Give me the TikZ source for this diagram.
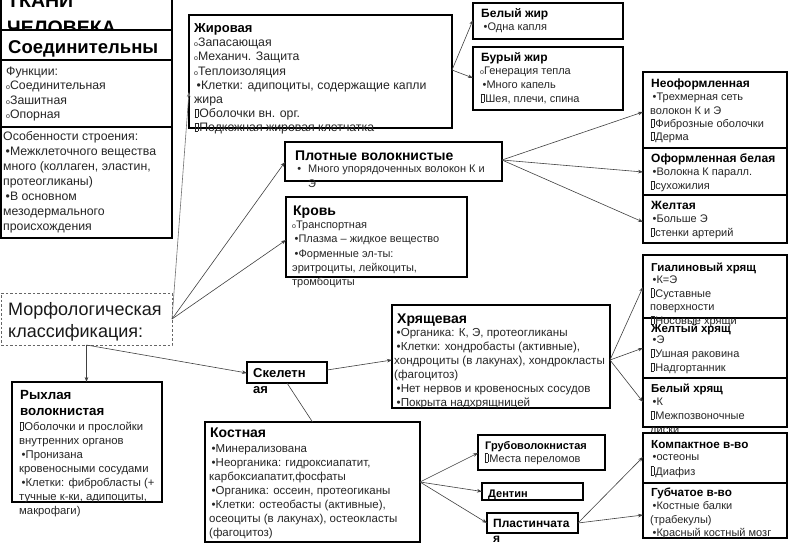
\documentclass[tikz,border=0pt]{standalone}
\usepackage{fontspec}
\setmainfont{Liberation Sans}
\usetikzlibrary{arrows.meta}
\newcommand\cir{{\fontsize{7}{7}\selectfont o}}
\newcommand\bul{\hspace*{2.5pt}•}
\newcommand\nog{\kern0.3pt\vbox{\hrule height .45pt\hbox{\vrule width .45pt height 8pt\kern3pt\vrule width .45pt}\hrule height .45pt}\kern1pt}
\tikzset{
  box/.style={draw=black, line width=1.4pt, fill=white, inner sep=0pt, outer sep=0pt, anchor=north west},
  ttl/.style={anchor=base west, inner sep=0pt, font=\bfseries\fontsize{#1}{#1}\selectfont},
  bd/.style 2 args={anchor=north west, inner sep=0pt, align=left, text=black!85, font=\fontsize{#1}{#2}\selectfont},
  bdb/.style 2 args={anchor=north west, inner sep=0pt, align=left, font=\bfseries\fontsize{#1}{#2}\selectfont},
  con/.style={draw=black!75, line width=0.6pt, -{Stealth[length=5pt,width=3.6pt]}},
}
\begin{document}
\begin{tikzpicture}[x=1pt,y=-1pt]
\useasboundingbox (0,0) rectangle (800,554);
\clip (0,0) rectangle (800,554);
\fill[white] (0,0) rectangle (800,554);
% title
\node[box, minimum width=171, minimum height=35] (ttlbox) at (1,-5) {};
\node[ttl=19.5] (tkani) at (7,8) {ТКАНИ};
\node[ttl=19.5] (chel) at (7,34) {ЧЕЛОВЕКА};
% boxes
\node[box, minimum width=171, minimum height=30] (conn) at (1,30) {};
\node[box, minimum width=171, minimum height=67] (func) at (1,60) {};
\node[box, minimum width=171, minimum height=111] (feat) at (1,127) {};
\node[box, draw=black!60, line width=0.8pt, dash pattern=on 2.5pt off 2pt, minimum width=171, minimum height=52] (morph) at (1,293) {};
\node[box, minimum width=263, minimum height=113] (fat) at (189,15) {};
\node[box, minimum width=150, minimum height=36] (white) at (473,3) {};
\node[box, minimum width=150, minimum height=63] (brown) at (473,47) {};
\node[box, minimum width=217, minimum height=39] (dense) at (285,142) {};
\node[box, minimum width=181, minimum height=80] (blood) at (286,197) {};
\node[box, minimum width=144, minimum height=76] (irreg) at (643,72) {};
\node[box, minimum width=144, minimum height=47] (reg) at (643,148) {};
\node[box, minimum width=144, minimum height=48] (yel) at (643,195) {};
\node[box, minimum width=144, minimum height=63] (hyal) at (643,255) {};
\node[box, minimum width=144, minimum height=60] (elas) at (643,318) {};
\node[box, minimum width=144, minimum height=49] (fib) at (643,378) {};
\node[box, minimum width=218, minimum height=103] (cart) at (392,305) {};
\node[box, minimum width=150, minimum height=120] (loose) at (12,382) {};
\node[box, minimum width=80, minimum height=21] (skel) at (247,362) {};
\node[box, minimum width=215, minimum height=120] (bone) at (205,422) {};
\node[box, minimum width=127, minimum height=35] (coarse) at (478,435) {};
\node[box, minimum width=101, minimum height=17] (dent) at (482,483) {};
\node[box, minimum width=91, minimum height=20] (lam) at (487,513) {};
% texts
\node[ttl=18.5] (conn-t) at (8,53) {Соединительны};
\node[bd={12.3}{14.2}] (func-t) at (6,65.6) {\strut Функции:\\\cir Соединительная\\\cir Зашитная\\\cir Опорная};
\node[bd={12.3}{15}] (feat-t) at (3,130) {\strut Особенности строения:\\\bul Межклеточного вещества\\много (коллаген, эластин,\\протеогликаны)\\\bul В основном\\мезодермального\\происхождения};
\node[bd={18}{22.5}, text=black!90] (morph-t) at (8,299.25) {\strut Морфологическая\\классификация:};
\node[ttl=13] (fat-h) at (194,32.5) {Жировая};
\node[bd={12.3}{14.2}] (fat-t) at (194,36.6) {\strut\cir Запасающая\\\cir Механич. Защита\\\cir Теплоизоляция\\\bul Клетки: адипоциты, содержащие капли\\жира\\\nog Оболочки вн. орг.\\\nog Подкожная жировая клетчатка};
\node[ttl=12] (white-h) at (481,17.5) {Белый жир};
\node[bd={11}{14}] (white-t) at (481,20.7) {\strut\bul Одна капля};
\node[ttl=12] (brown-h) at (481,61.5) {Бурый жир};
\node[bd={11}{14}] (brown-t) at (480,64.7) {\strut\cir Генерация тепла\\\bul Много капель\\\nog Шея, плечи, спина};
\node[ttl=14] (dense-h) at (295,160) {Плотные волокнистые};
\node[bd={11}{15}] (dense-t) at (308,161.5) {\strut\llap{•\hspace{7pt}}Много упорядоченных волокон К и\\Э};
\node[ttl=14] (blood-h) at (293,215) {Кровь};
\node[bd={11}{14.2}] (blood-t) at (292,218.6) {\strut\cir Транспортная\\\bul Плазма – жидкое вещество\\\bul Форменные эл-ты:\\эритроциты, лейкоциты,\\тромбоциты};
\node[ttl=12] (irreg-h) at (651,87) {Неоформленная};
\node[bd={11}{13.4}] (irreg-t) at (650,91.1) {\strut\bul Трехмерная сеть\\волокон К и Э\\\nog Фиброзные оболочки\\\nog Дерма};
\node[ttl=12] (reg-h) at (651,162) {Оформленная белая};
\node[bd={11}{14}] (reg-t) at (650,165.7) {\strut\bul Волокна К паралл.\\\nog сухожилия};
\node[ttl=12] (yel-h) at (651,209) {Желтая};
\node[bd={11}{14}] (yel-t) at (650,212.7) {\strut\bul Больше Э\\\nog стенки артерий};
\node[ttl=11.5] (hyal-h) at (651,271) {Гиалиновый хрящ};
\node[bd={11}{13.6}] (hyal-t) at (650,274) {\strut\bul К=Э\\\nog Суставные\\поверхности\\\nog Носовые хрящи};
\node[ttl=11.5] (elas-h) at (651,332) {Желтый хрящ};
\node[bd={11}{14}] (elas-t) at (650,333.7) {\strut\bul Э\\\nog Ушная раковина\\\nog Надгортанник};
\node[ttl=11.5] (fib-h) at (651,392) {Белый хрящ};
\node[bd={11}{13.8}] (fib-t) at (650,395.8) {\strut\bul К\\\nog Межпозвоночные\\диски};
\node[ttl=14] (cart-h) at (397,323) {Хрящевая};
\node[bd={11.6}{14}] (cart-t) at (394,326.7) {\strut\bul Органика: К, Э, протеогликаны\\\bul Клетки: хондробасты (активные),\\хондроциты (в лакунах), хондрокласты\\(фагоцитоз)\\\bul Нет нервов и кровеносных сосудов\\\bul Покрыта надхрящницей};
\node[bdb={13.3}{16}] (loose-h) at (20,387.8) {\strut Рыхлая\\волокнистая};
\node[bd={11.3}{14}] (loose-t) at (19,420.7) {\strut\nog Оболочки и прослойки\\внутренних органов\\\bul Пронизана\\кровеносными сосудами\\\bul Клетки: фибробласты (+\\тучные к-ки, адипоциты,\\макрофаги)};
\node[bdb={13}{16}] (skel-t) at (253,365.8) {\strut Скелетн\\ая};
\node[ttl=14] (bone-h) at (210,437) {Костная};
\node[bd={11.5}{13.9}] (bone-t) at (209,442.8) {\strut\bul Минерализована\\\bul Неорганика: гидроксиапатит,\\карбоксиапатит,фосфаты\\\bul Органика: оссеин, протеогиканы\\\bul Клетки: остеобасты (активные),\\осеоциты (в лакунах), остеокласты\\(фагоцитоз)};
\node[ttl=11] (coarse-h) at (485,449) {Грубоволокнистая};
\node[bd={11}{14}] (coarse-t) at (484,452.2) {\strut\nog Места переломов};
\node[ttl=11] (dent-t) at (488,497) {Дентин};
\node[bdb={12}{15}] (lam-t) at (493,516.5) {\strut Пластинчата\\я};
% bottom-right boxes (cover overflow of the box above)
\node[box, minimum width=144, minimum height=50] (comp) at (643,433) {};
\node[box, minimum width=144, minimum height=55] (spong) at (643,483) {};
\node[ttl=11.7] (comp-h) at (651,448) {Компактное в-во};
\node[bd={11}{14.5}] (comp-t) at (650,450.35) {\strut\bul остеоны\\\nog Диафиз};
\node[ttl=11.7] (spong-h) at (651,496) {Губчатое в-во};
\node[bd={11}{13.6}] (spong-t) at (650,500) {\strut\bul Костные балки\\(трабекулы)\\\bul Красный костный мозг};
% connectors
\draw[con, draw=black!55] (morph.east) -- (fat.west |- 0,92);
\draw[con] (morph.east) -- (dense.west |- 0,162);
\draw[con] (morph.east) -- (blood.west |- 0,240);
\draw[con] (morph.south) -- (morph.south |- loose.north);
\draw[con] (morph.south) -- (skel.west |- 0,373);
\draw[con] (fat.east |- 0,70) -- (white.west |- 0,20);
\draw[con] (fat.east |- 0,70) -- (brown.west |- 0,78);
\draw[con] (dense.east |- 0,160) -- (irreg.west |- 0,112);
\draw[con] (dense.east |- 0,160) -- (reg.west |- 0,172);
\draw[con] (dense.east |- 0,160) -- (yel.west |- 0,222);
\draw[con] (skel.east |- 0,370) -- (cart.west |- 0,360);
\draw[draw=black!75, line width=0.6pt] (skel.south) -- (bone.north);
\draw[con] (cart.east |- 0,360) -- (hyal.west |- 0,287);
\draw[con] (cart.east |- 0,360) -- (elas.west |- 0,348);
\draw[con] (cart.east |- 0,360) -- (fib.west |- 0,402);
\draw[con] (bone.east |- 0,482) -- (coarse.west |- 0,453);
\draw[con] (bone.east |- 0,482) -- (dent.west);
\draw[con] (bone.east |- 0,482) -- (lam.west);
\draw[con] (lam.east) -- (comp.west |- 0,457);
\draw[con] (lam.east) -- (spong.west |- 0,515);
\end{tikzpicture}
\end{document}
